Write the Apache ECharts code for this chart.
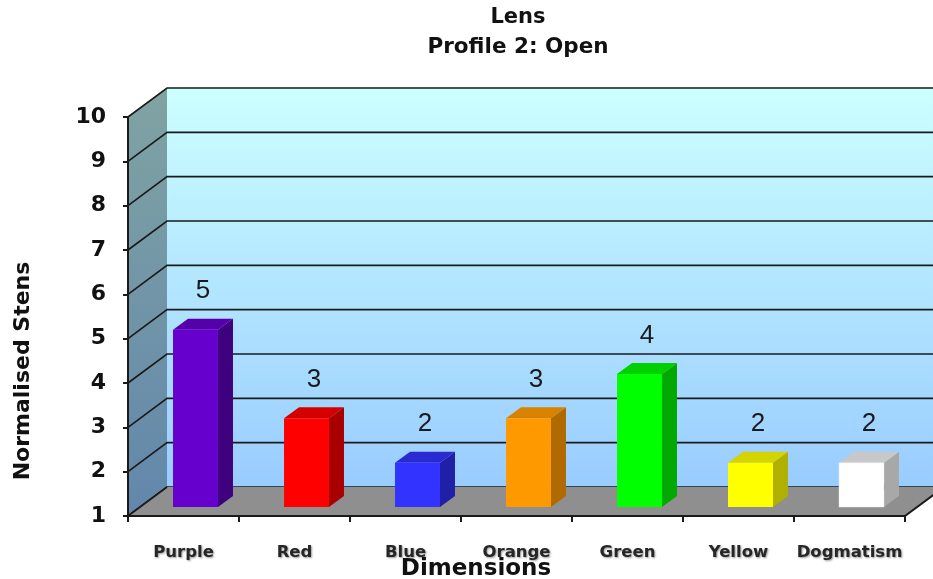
<!DOCTYPE html>
<html><head><meta charset="utf-8">
<script src="https://cdn.jsdelivr.net/npm/echarts@6/dist/echarts.min.js"></script>
<style>html,body{margin:0;padding:0;background:#fff}#c{width:933px;height:579px}</style>
</head><body><div id="c"></div>
<script>
const categories = ['Purple','Red','Blue','Orange','Green','Yellow','Dogmatism'];
const values = [5,3,2,3,4,2,2];
const yTicks = [1,2,3,4,5,6,7,8,9,10];
const titleLines = ['Lens','Profile 2: Open'];

const barColors = [
  {front:'#6600cc', side:'#3f007e', top:'#5600ac'},
  {front:'#ff0000', side:'#a80000', top:'#d40000'},
  {front:'#3333ff', side:'#1f1fa8', top:'#2a2ad2'},
  {front:'#ff9900', side:'#b06a00', top:'#d88200'},
  {front:'#00ff00', side:'#00a800', top:'#00d000'},
  {front:'#ffff00', side:'#b0b000', top:'#d4d400'},
  {front:'#ffffff', side:'#a8a8a8', top:'#c8c8c8'}
];
const DX = 39, DY = -29;      // full depth offset of the 3D box
const FX = 12, FY = -9;       // front face of bars offset
const BX = 15, BY = -11;      // bar depth

const chart = echarts.init(document.getElementById('c'));

function renderWalls(params, api) {
  const cs = params.coordSys;
  const x0 = cs.x, x1 = cs.x + cs.width;
  const yB = api.coord([0, yTicks[0]])[1];
  const yT = api.coord([0, yTicks[yTicks.length - 1]])[1];
  const ch = [];
  ch.push({type:'rect', shape:{x:x0 + DX, y:yT + DY, width:x1 - x0 + 5, height:yB - yT},
    style:{fill:new echarts.graphic.LinearGradient(0,0,0,1,[{offset:0,color:'#ccffff'},{offset:1,color:'#99ccff'}])}});
  ch.push({type:'polygon', shape:{points:[[x0,yT],[x0+DX,yT+DY],[x0+DX,yB+DY],[x0,yB]]},
    style:{fill:new echarts.graphic.LinearGradient(0,0,0,1,[{offset:0,color:'#80a3a3'},{offset:1,color:'#6287ab'}])}});
  yTicks.forEach(t => {
    const y = api.coord([0, t])[1];
    ch.push({type:'polyline', shape:{points:[[x0,y],[x0+DX,y+DY],[x1+DX+5,y+DY]]},
      style:{stroke:'#1a1a1a', lineWidth:1.6, fill:null}});
  });
  ch.push({type:'polygon', shape:{points:[[x0,yB],[x1,yB],[x1+DX,yB+DY],[x0+DX,yB+DY]]},
    style:{fill:'#8f8f8f'}});
  ch.push({type:'line', shape:{x1:x0, y1:yB, x2:x0+DX, y2:yB+DY}, style:{stroke:'#1a1a1a', lineWidth:1.6}});
  ch.push({type:'line', shape:{x1:x1, y1:yB, x2:x1+DX, y2:yB+DY}, style:{stroke:'#1a1a1a', lineWidth:2}});
  return {type:'group', children:ch};
}

function renderBar(params, api) {
  const i = api.value(0), v = api.value(1);
  const base = api.coord([i, yTicks[0]]);
  const top = api.coord([i, v]);
  const band = api.size([1, 0])[0];
  const w = band * 0.405;
  const c = barColors[i];
  const xl = base[0] + FX - w / 2, xr = xl + w;
  const yb = base[1] + FY, yt = top[1] + FY;
  const yn = base[1] + DY; // floor back line (small seam)
  return {type:'group', children:[
    {type:'polygon', shape:{points:[[xr,yb],[xr+BX,yb+BY],[xr+BX,yt+BY],[xr,yt]]}, style:{fill:c.side}},
    {type:'polygon', shape:{points:[[xl,yt],[xr,yt],[xr+BX,yt+BY],[xl+BX,yt+BY]]}, style:{fill:c.top}},
    {type:'rect', shape:{x:xl, y:yt, width:w, height:yb-yt}, style:{fill:c.front, stroke:c.front==='#ffffff'?'#e8e8e8':null, lineWidth:0.5}},
    {type:'rect', shape:{x:xr, y:yn - 3, width:2, height:6}, style:{fill:c.side}},
    {type:'text', x:(xl+xr)/2 + BX/2, y:yt + BY/2 - 33,
      style:{text:String(v), fill:'#1a1a1a', font:'26px "Liberation Sans", Arial, sans-serif', align:'center', verticalAlign:'middle'}}
  ]};
}

chart.setOption({
  backgroundColor:'#ffffff',
  animation:false,
  grid:{left:128, right:28, top:117, bottom:63, containLabel:false},
  xAxis:{type:'category', data:categories, boundaryGap:true, z:10,
    axisLine:{show:true, lineStyle:{color:'#1a1a1a', width:2}},
    axisTick:{show:true, interval:0, length:6, lineStyle:{color:'#1a1a1a', width:2}},
    axisLabel:{interval:0, margin:28, color:'#262626', fontSize:16.5, fontWeight:'bold', fontFamily:'DejaVu Sans',
      textShadowColor:'rgba(0,0,0,0.4)', textShadowBlur:2, textShadowOffsetX:1, textShadowOffsetY:1},
    splitLine:{show:false}},
  yAxis:{type:'value', min:yTicks[0], max:yTicks[yTicks.length-1], interval:1, z:10,
    axisLine:{show:true, lineStyle:{color:'#1a1a1a', width:2}},
    axisTick:{show:true, length:5, lineStyle:{color:'#1a1a1a', width:2}},
    axisLabel:{margin:22, color:'#111', fontSize:22, fontWeight:'bold', fontFamily:'DejaVu Sans'},
    splitLine:{show:false}},
  graphic:[
    {type:'text', x:518, y:18, style:{text:titleLines[0], font:'bold 21px "DejaVu Sans"', fill:'#111', align:'center', verticalAlign:'middle'}},
    {type:'text', x:518, y:47, style:{text:titleLines[1], font:'bold 21.5px "DejaVu Sans"', fill:'#111', align:'center', verticalAlign:'middle'}},
    {type:'text', x:23, y:371, rotation:Math.PI/2, style:{text:'Normalised Stens', font:'bold 22px "DejaVu Sans"', fill:'#111', align:'center', verticalAlign:'middle'}},
    {type:'text', x:476, y:569, style:{text:'Dimensions', font:'bold 23px "DejaVu Sans"', fill:'#111', align:'center', verticalAlign:'middle'}, z:100}
  ],
  series:[
    {type:'custom', z:1, renderItem:renderWalls, data:[[0, yTicks[0]]], encode:{x:0, y:1}, silent:true, clip:false},
    {type:'custom', z:3, renderItem:renderBar, data:values.map((v,i)=>[i,v]), encode:{x:0, y:1}, clip:false}
  ]
});
</script></body></html>
